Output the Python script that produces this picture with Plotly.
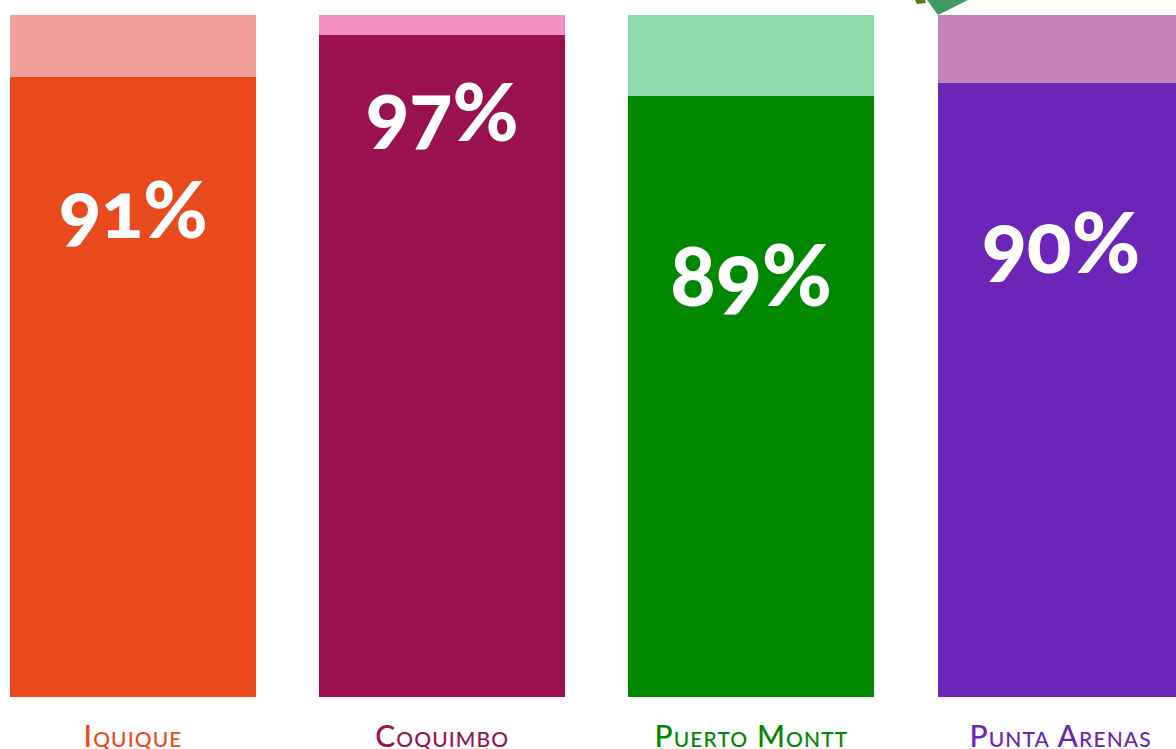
import plotly.graph_objects as go

cities = ["Iquique", "Coquimbo", "Puerto Montt", "Punta Arenas"]
values = [90.9, 97.1, 88.1, 90.0]
labels = ["91%", "97%", "89%", "90%"]
label_y = [71.7, 86.1, 62.2, 66.8]
label_size = [78, 80, 85, 83]
dark = ["#E94A1D", "#99124F", "#008800", "#6B25B8"]
light = ["#F4A09A", "#F291C1", "#8EDBAC", "#C281B8"]
rest = [100 - v for v in values]

W, H, T, B = 1176, 749, 15, 697
PITCH = 309.2


def paper(px, py):
    return px / W, (B - py) / (B - T)


def path(points):
    parts = []
    for i, (px, py) in enumerate(points):
        x, y = paper(px, py)
        parts.append(("M" if i == 0 else "L") + f"{x:.5f},{y:.5f}")
    return " ".join(parts) + " Z"


x = list(range(len(cities)))
fig = go.Figure()
fig.add_bar(x=x, y=values, marker=dict(color=dark, line_width=0), hoverinfo="skip")
fig.add_bar(x=x, y=rest, marker=dict(color=light, line_width=0), hoverinfo="skip")

for i, lab in enumerate(labels):
    fig.add_annotation(x=i, y=label_y[i], text=f"<span style='font-feature-settings:\"onum\"'>{lab}</span>",
                       showarrow=False,
                       font=dict(family="Lato", size=label_size[i], color="white", weight=900))

ticktext = [f'<span style="color:{c};letter-spacing:1.1px">{n}</span>' for n, c in zip(cities, dark)]

fig.update_layout(
    barmode="stack", bargap=1 - 246 / PITCH, width=W, height=H, showlegend=False,
    margin=dict(l=0, r=0, t=T, b=H - B, autoexpand=False), paper_bgcolor="white", plot_bgcolor="white",
    xaxis=dict(range=[-133 / PITCH, (W - 133) / PITCH], tickmode="array", tickvals=x, ticktext=ticktext,
               showgrid=False, zeroline=False, showline=False, ticks="", ticklabelstandoff=19,
               automargin=False,
               tickfont=dict(family="Lato", size=30, weight=500, variant="small-caps")),
    yaxis=dict(range=[0, 100], visible=False),
    shapes=[
        dict(type="path", xref="paper", yref="paper", path=path([(927, 0), (938, 15), (968, 0)]),
             fillcolor="#3F9A63", line_width=0),
        dict(type="path", xref="paper", yref="paper", path=path([(915, 0), (917, 4), (926, 3), (925, 0)]),
             fillcolor="#5A7A12", line_width=0),
    ],
)
fig.write_html("out.html", config=dict(displayModeBar=False),
               post_script="document.body.style.margin='0';")
